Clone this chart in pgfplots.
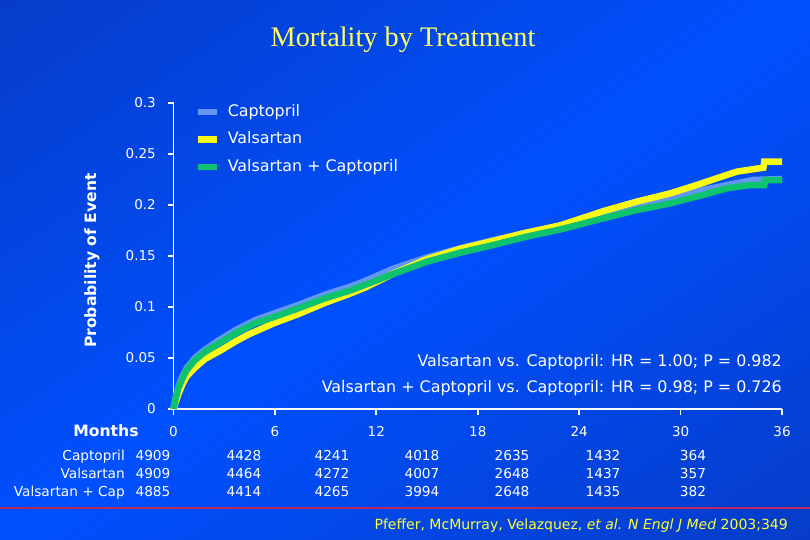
\documentclass[border=0pt]{standalone}
\usepackage{fontspec}
\setmainfont{DejaVu Sans}
\newfontfamily\titlefont{Liberation Serif}
\usepackage{pgfplots}
\pgfplotsset{compat=1.18}
\definecolor{bgdark}{RGB}{6,36,130}
\definecolor{bgmid}{RGB}{6,60,200}
\definecolor{bgbright}{RGB}{0,80,255}
\definecolor{capblue}{RGB}{100,150,245}
\definecolor{valyellow}{RGB}{250,250,20}
\definecolor{combgreen}{RGB}{15,195,110}
\definecolor{titleyellow}{RGB}{255,255,100}
\definecolor{citeyellow}{RGB}{255,255,60}
\definecolor{redline}{RGB}{190,40,90}
\pgfdeclarehorizontalshading{bgsh}{100bp}{color(0bp)=(bgdark); color(25bp)=(bgmid); color(50bp)=(bgbright); color(75bp)=(bgmid); color(100bp)=(bgdark)}
\newcommand\fs[1]{\fontsize{#1}{#1}\selectfont}
\begin{document}
\begin{tikzpicture}
\useasboundingbox (0,0) rectangle (810bp,540bp);
\begin{scope}
\clip (0,0) rectangle (810bp,540bp);
\shade[shading=bgsh, transform canvas={shift={(405bp,270bp)}, rotate=-56.3}] (-450bp,-700bp) rectangle (450bp,700bp);
\end{scope}
\draw[redline, line width=1.3bp] (0,32bp) -- (810bp,32bp);
\begin{axis}[
  at={(173.5bp,131bp)}, anchor=south west,
  scale only axis, width=608.5bp, height=306bp,
  xmin=0, xmax=36, ymin=0, ymax=0.3,
  axis x line=bottom, axis y line=left,
  axis line style={-, white, line width=1.8bp},
  every tick/.style={white, line width=1.8bp},
  tick align=outside, major tick length=5.5bp,
  xtick={0,6,12,18,24,30,36},
  xticklabels={0,6,12,18,24,30,36},
  ytick={0,0.05,0.1,0.15,0.2,0.25,0.3},
  yticklabels={0,0.05,0.1,0.15,0.2,0.25,0.3},
  /pgf/number format/assume math mode=true,
  ticklabel style={font=\fs{13.5bp}, text=white, inner sep=0pt},
  xticklabel style={anchor=north, yshift=-11.5bp},
  yticklabel style={anchor=east, xshift=-12bp},
  clip=false,
  legend style={draw=none, fill=none, at={(axis description cs:0.0353,0.996)}, anchor=north west,
    inner sep=0pt, outer sep=0pt, row sep=12bp, column sep=7bp,
    font=\fs{15.9bp}, text=white,
    nodes={inner sep=0pt, text height=12bp, text depth=3.5bp}},
  legend cell align=left,
  legend image code/.code={\draw[#1, line width=6.8bp] (0bp,0bp) -- (19bp,0bp);},
  every axis plot/.append style={line width=6.5bp, no markers},
]
\addplot[capblue] coordinates {
(0,0) (0.12,0.011) (0.3,0.022) (0.5,0.031) (0.78,0.040) (1.27,0.050) (1.86,0.058) (2.65,0.067) (3.64,0.077) (4.82,0.087) (6.0,0.094) (7.38,0.102) (8.96,0.112) (10.54,0.1205) (11.33,0.1255) (13.0,0.1375) (14.98,0.1485) (16.95,0.1575) (18.92,0.1655) (20.9,0.173) (22.87,0.1795) (24.05,0.1845) (25.43,0.191) (27.4,0.199) (29.38,0.206) (31.35,0.2147) (32.73,0.2195) (34.3,0.2245) (36,0.2255)
};
\addlegendentry{Captopril}
\addplot[valyellow] coordinates {
(0,0) (0.15,0.008) (0.35,0.017) (0.55,0.025) (0.78,0.032) (1.3,0.041) (1.86,0.049) (2.85,0.058) (3.64,0.066) (4.43,0.073) (6.0,0.0845) (7.38,0.093) (8.96,0.104) (10.54,0.1137) (11.33,0.119) (12.5,0.1285) (13.0,0.1328) (14.98,0.1468) (16.95,0.157) (18.92,0.1648) (20.9,0.173) (22.87,0.1800) (23.7,0.1845) (24.5,0.1888) (25.43,0.194) (27.4,0.2033) (29.38,0.2114) (30.96,0.2196) (32.14,0.2262) (33.33,0.2327) (34.9,0.2366) (34.95,0.2425) (36,0.2425)
};
\addlegendentry{Valsartan}
\addplot[combgreen] coordinates {
(0,0) (0.12,0.010) (0.3,0.021) (0.5,0.029) (0.78,0.038) (1.27,0.048) (1.86,0.056) (2.65,0.064) (3.64,0.074) (4.82,0.084) (6.0,0.0905) (7.38,0.0987) (8.96,0.1085) (10.54,0.1167) (11.3,0.1215) (13.0,0.1324) (14.98,0.1444) (16.95,0.1532) (18.92,0.1608) (20.9,0.169) (22.87,0.176) (24.05,0.181) (25.43,0.187) (27.4,0.195) (29.38,0.2016) (31.35,0.21) (32.73,0.2163) (33.2,0.2175) (34.1,0.2196) (34.95,0.2196) (35.0,0.2245) (36,0.2245)
};
\addlegendentry{Valsartan + Captopril}
\end{axis}
% title
\node[anchor=base, text=titleyellow, font=\titlefont\fs{28.3bp}, inner sep=0pt] at (403bp,493bp) {Mortality by Treatment};
% y label
\node[rotate=90, text=white, font=\bfseries\fs{15.6bp}, inner sep=0pt] at (92bp,279.5bp) {Probability of Event};
% Months
\node[anchor=base, text=white, font=\bfseries\fs{15.6bp}, inner sep=0pt] at (106bp,103bp) {Months};
% statistics
\node[anchor=base east, text=white, font=\fs{15.9bp}, inner sep=0pt] at (782bp,173.5bp) {Valsartan vs. Captopril: HR = 1.00; P = 0.982};
\node[anchor=base east, text=white, font=\fs{15.9bp}, inner sep=0pt] at (782bp,147.5bp) {Valsartan + Captopril vs. Captopril: HR = 0.98; P = 0.726};
% numbers at risk
\begin{scope}[every node/.style={text=white, font=\fs{13.7bp}, inner sep=0pt}]
\node[anchor=base east] at (125bp,79bp) {Captopril};
\node[anchor=base east] at (125bp,61bp) {Valsartan};
\node[anchor=base east] at (125bp,43bp) {Valsartan + Cap};
\foreach \x/\a/\b/\c in {153/4909/4909/4885, 244/4428/4464/4414, 332/4241/4272/4265, 422/4018/4007/3994, 512/2635/2648/2648, 603/1432/1437/1435, 693/364/357/382} {
  \node[anchor=base] at (\x bp,79bp) {\a};
  \node[anchor=base] at (\x bp,61bp) {\b};
  \node[anchor=base] at (\x bp,43bp) {\c};
}
\end{scope}
% citation
\node[anchor=base east, text=citeyellow, font=\fs{14bp}, inner sep=0pt] at (788bp,11bp) {Pfeffer, McMurray, Velazquez, \textit{et al.} \textit{N Engl J Med} 2003;349};
\end{tikzpicture}
\end{document}
